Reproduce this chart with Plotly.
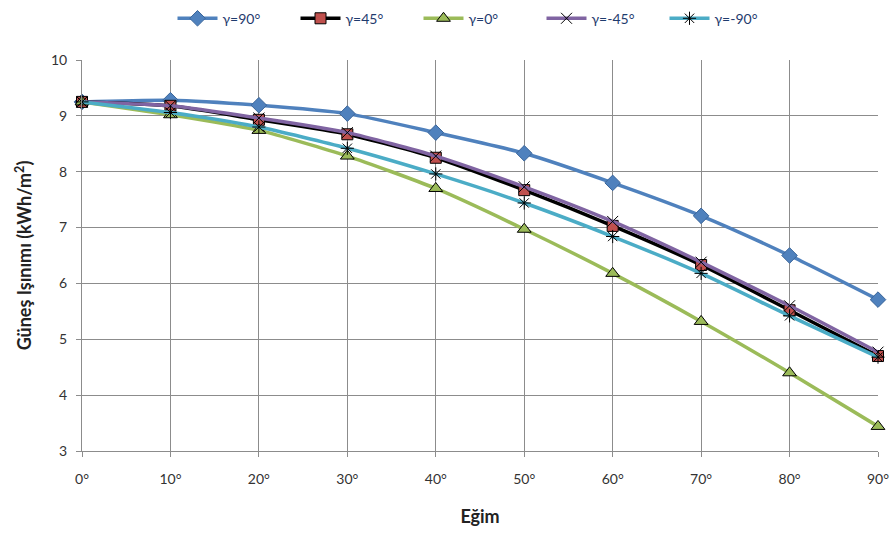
import plotly.graph_objects as go

egim = [0, 10, 20, 30, 40, 50, 60, 70, 80, 90]
tick_labels = ["0°", "10°", "20°", "30°", "40°", "50°", "60°", "70°", "80°", "90°"]

g90 = [9.25, 9.28, 9.19, 9.04, 8.70, 8.33, 7.80, 7.21, 6.50, 5.71]
g45 = [9.25, 9.18, 8.93, 8.67, 8.25, 7.67, 7.03, 6.33, 5.52, 4.70]
g0 = [9.25, 9.02, 8.74, 8.28, 7.70, 6.97, 6.18, 5.32, 4.40, 3.44]
gm45 = [9.25, 9.18, 8.96, 8.70, 8.28, 7.73, 7.11, 6.38, 5.60, 4.77]
gm90 = [9.25, 9.06, 8.80, 8.42, 7.96, 7.44, 6.84, 6.18, 5.42, 4.68]

series = [
    ("γ=90°", g90, "#4F81BD", dict(symbol="diamond", size=12, color="#4F81BD", line=dict(color="#3A659A", width=1))),
    ("γ=45°", g45, "#000000", dict(symbol="square", size=11, color="#C0504D", line=dict(color="#000000", width=1))),
    ("γ=0°", g0, "#9BBB59", dict(symbol="triangle-up", size=12, color="#9BBB59", line=dict(color="#000000", width=1))),
    ("γ=-45°", gm45, "#8064A2", dict(symbol="x-thin-open", size=11, color="#000000", line=dict(color="#333333", width=1))),
    ("γ=-90°", gm90, "#4BACC6", dict(symbol="asterisk-open", size=11, color="#000000", line=dict(color="#000000", width=1))),
]

fig = go.Figure()
for name, vals, col, mk in series:
    fig.add_trace(go.Scatter(
        x=egim, y=vals, name=name, mode="lines+markers",
        line=dict(color=col, width=3.5, shape="spline", smoothing=0.6),
        marker=mk, cliponaxis=False,
    ))

fig.update_layout(
    width=892, height=537,
    margin=dict(l=82, r=14, t=60, b=86, autoexpand=False),
    paper_bgcolor="white", plot_bgcolor="white",
    font=dict(family="Lato, Open Sans, sans-serif", size=14, color="#333333"),
    showlegend=True,
    legend=dict(orientation="h", x=0.5, xanchor="center", y=0.995, yanchor="top",
                yref="container", font=dict(size=14, color="#1f3b6e"),
                traceorder="normal", itemwidth=40, entrywidth=68, entrywidthmode="pixels"),
    xaxis=dict(
        range=[0, 90], tickvals=egim, ticktext=tick_labels,
        showgrid=True, gridcolor="#8c8c8c", gridwidth=1,
        showline=True, linecolor="#8c8c8c", linewidth=1,
        ticks="outside", ticklen=5, tickcolor="#8c8c8c",
        tickfont=dict(size=14, color="#333333"),
        ticklabelstandoff=10,
        title=dict(text="<b>Eğim</b>", font=dict(size=18, color="#222222"), standoff=24),
        zeroline=False, fixedrange=True, automargin=False,
    ),
    yaxis=dict(
        range=[3, 10], dtick=1,
        showgrid=True, gridcolor="#8c8c8c", gridwidth=1,
        showline=True, linecolor="#8c8c8c", linewidth=1,
        ticks="outside", ticklen=5, tickcolor="#8c8c8c",
        tickfont=dict(size=14, color="#333333"),
        ticklabelstandoff=6,
        title=dict(text="<b>Güneş Işınımı (kWh/m<sup>2</sup>)</b>", font=dict(size=18, color="#222222"), standoff=14),
        zeroline=False, fixedrange=True, automargin=False,
    ),
)

fig.write_html("out.html")
